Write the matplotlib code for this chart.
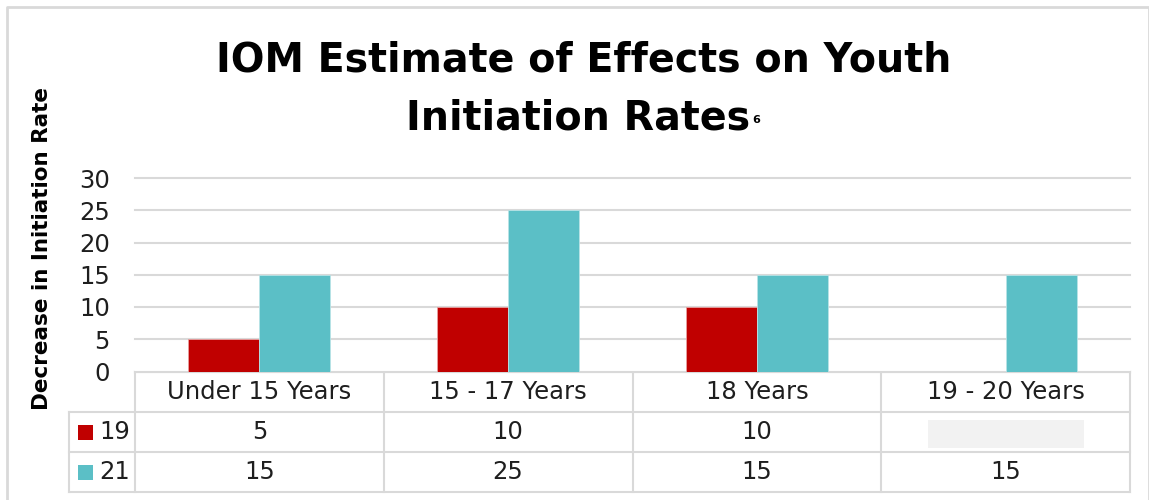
import matplotlib
matplotlib.use("Agg")
import matplotlib.pyplot as plt
import numpy as np

# chart data
categories = ["Under 15 Years", "15 - 17 Years", "18 Years", "19 - 20 Years"]
series_names = ["19", "21"]
age_19 = [5, 10, 10, None]
age_21 = [15, 25, 15, 15]
y_ticks = [0, 5, 10, 15, 20, 25, 30]

RED = "#C00000"
TEAL = "#5BBFC6"
GRID = "#D9D9D9"
TXT = "#1E1E1E"
FS = 17.5

W, H = 1149, 500
plt.rcParams["font.family"] = ["DejaVu Sans"]

fig = plt.figure(figsize=(W / 100, H / 100), dpi=100)

# pixel-space overlay for table, border, title
ov = fig.add_axes([0, 0, 1, 1])
ov.set_xlim(0, W)
ov.set_ylim(H, 0)
ov.axis("off")

x_left, x_right = 135, 1130
y_zero, y_top = 371.5, 178
ax = fig.add_axes([x_left / W, (H - y_zero) / H, (x_right - x_left) / W, (y_zero - y_top) / H])

x = np.arange(len(categories))
bw = 0.285
v19 = [np.nan if v is None else v for v in age_19]
ax.bar(x - bw / 2, v19, bw, color=RED, edgecolor="#E8A0A0", linewidth=0.6, zorder=3)
ax.bar(x + bw / 2, age_21, bw, color=TEAL, edgecolor="#B8E3E6", linewidth=0.6, zorder=3)

ax.set_xlim(-0.5, len(categories) - 0.5)
ax.set_ylim(0, 30)
ax.set_yticks(y_ticks)
ax.set_yticklabels([str(t) for t in y_ticks], fontsize=FS, color=TXT)
ax.tick_params(axis="y", length=0, pad=18)
ax.set_xticks([])
ax.grid(axis="y", color=GRID, linewidth=1.5, zorder=0)
for gl in ax.get_ygridlines():
    gl.set_clip_on(False)
for s in ax.spines.values():
    s.set_visible(False)

# title
ov.text(584, 60, "IOM Estimate of Effects on Youth", ha="center", va="center",
        fontsize=28.5, fontweight="bold", color="black")
t2 = ov.text(578, 118, "Initiation Rates", ha="center", va="center",
             fontsize=28.5, fontweight="bold", color="black")
fig.canvas.draw()
bb = t2.get_window_extent()
ov.text(bb.x1 + 2, 120, "6", ha="left", va="center", fontsize=8, fontweight="bold", color="black")

# y label
ov.text(42, 248, "Decrease in Initiation Rate", rotation=90, ha="center", va="center",
        fontsize=15.5, fontweight="bold", color="black")

# data table
px_per_cat = (x_right - x_left) / len(categories)
bounds = [x_left + i * px_per_cat for i in range(len(categories) + 1)]
row_y = [y_zero, 412, 452, 492]
leg_x = 69
lw = 1.5
for b in bounds:
    ov.plot([b, b], [row_y[0], row_y[-1]], color=GRID, lw=lw)
ov.plot([leg_x, leg_x], [row_y[1], row_y[-1]], color=GRID, lw=lw)
ov.plot([x_left, x_right], [row_y[0], row_y[0]], color=GRID, lw=lw)
for yy in row_y[1:]:
    ov.plot([leg_x, x_right], [yy, yy], color=GRID, lw=lw)

for i, cat in enumerate(categories):
    cx = (bounds[i] + bounds[i + 1]) / 2
    ov.text(cx, (row_y[0] + row_y[1]) / 2, cat, ha="center", va="center", fontsize=FS, color=TXT)
    for r, vals in enumerate([age_19, age_21]):
        cy = (row_y[r + 1] + row_y[r + 2]) / 2
        v = vals[i]
        if v is None:
            ov.add_patch(plt.Rectangle((cx - 78, cy - 12), 156, 28, color="#F2F2F2", lw=0))
        else:
            ov.text(cx, cy, str(v), ha="center", va="center", fontsize=FS, color=TXT)

for r, (name, col) in enumerate(zip(series_names, [RED, TEAL])):
    cy = (row_y[r + 1] + row_y[r + 2]) / 2
    ov.add_patch(plt.Rectangle((78, cy - 7), 14.5, 14.5, color=col, lw=0))
    ov.text(99, cy, name, ha="left", va="center", fontsize=FS, color=TXT)

# outer frame
ov.plot([7, 7, W, W], [H, 7, 7, H], color=GRID, lw=2)

fig.savefig("out.png", dpi=100)
